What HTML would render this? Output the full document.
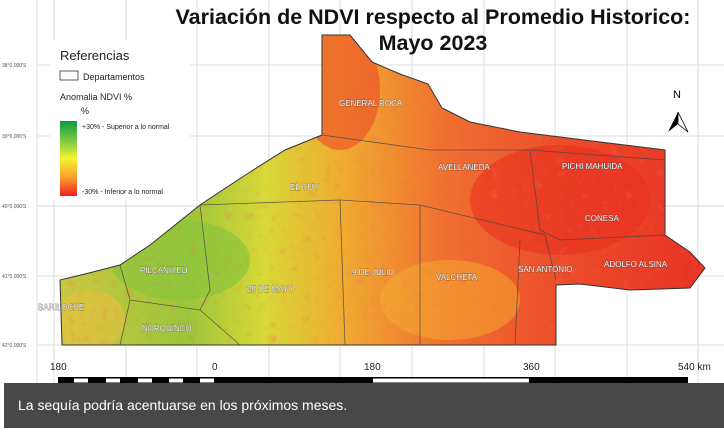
<!DOCTYPE html>
<html><head><meta charset="utf-8"><style>
body{margin:0;width:724px;height:428px;overflow:hidden;background:#fff;font-family:"Liberation Sans",sans-serif}
</style></head><body>
<svg width="724" height="428" viewBox="0 0 724 428" xmlns="http://www.w3.org/2000/svg">
<defs>
<linearGradient id="g" x1="60" y1="0" x2="700" y2="0" gradientUnits="userSpaceOnUse">
<stop offset="0" stop-color="#c8c840"/><stop offset="0.2" stop-color="#9cc63a"/><stop offset="0.32" stop-color="#d8d838"/><stop offset="0.45" stop-color="#f0a830"/><stop offset="0.6" stop-color="#f07030"/><stop offset="0.8" stop-color="#ec4a2a"/><stop offset="1" stop-color="#e83424"/></linearGradient>
<linearGradient id="leg" x1="0" y1="0" x2="0" y2="1"><stop offset="0" stop-color="#0a9a40"/><stop offset="0.3" stop-color="#8ed040"/><stop offset="0.5" stop-color="#f4f430"/><stop offset="0.75" stop-color="#f8a030"/><stop offset="1" stop-color="#ee2020"/></linearGradient>
<filter id="n"><feTurbulence baseFrequency="0.09" numOctaves="2" seed="3"/><feColorMatrix values="0 0 0 0 0.9  0 0 0 0 0.15  0 0 0 0 0.1  0 0 0 1.2 -0.45"/><feComposite in2="SourceGraphic" operator="in"/></filter>
<clipPath id="c"><path id="m" d="M322,35 L350,35 L372,62 L400,74 L428,84 L442,108 L470,122 L520,132 L600,142 L665,150 L665,235 L690,252 L705,268 L690,288 L630,290 L580,284 L556,285 L556,345 L62,345 L60,280 L85,274 L120,265 L150,245 L200,205 L215,195 L250,172 L285,150 L322,135 Z"/></clipPath>
</defs>
<g stroke="#ddd" stroke-width="1">
<line x1="37" y1="0" x2="37" y2="428"/><line x1="54" y1="0" x2="54" y2="428"/><line x1="126" y1="0" x2="126" y2="428"/><line x1="197" y1="0" x2="197" y2="428"/><line x1="269" y1="0" x2="269" y2="428"/><line x1="340" y1="0" x2="340" y2="428"/><line x1="412" y1="0" x2="412" y2="428"/><line x1="484" y1="0" x2="484" y2="428"/><line x1="555" y1="0" x2="555" y2="428"/><line x1="627" y1="0" x2="627" y2="428"/><line x1="698" y1="0" x2="698" y2="428"/>
<line x1="37" y1="65" x2="724" y2="65"/><line x1="37" y1="136" x2="724" y2="136"/><line x1="37" y1="206" x2="724" y2="206"/><line x1="37" y1="276" x2="724" y2="276"/><line x1="37" y1="345" x2="724" y2="345"/>
</g>
<g font-size="5" fill="#555"><text x="2" y="67">38°0,000'S</text><text x="2" y="138">39°0,000'S</text><text x="2" y="208">40°0,000'S</text><text x="2" y="278">41°0,000'S</text><text x="2" y="347">42°0,000'S</text></g>
<g clip-path="url(#c)">
<rect x="0" y="0" width="724" height="428" fill="url(#g)"/>
<ellipse cx="180" cy="260" rx="70" ry="40" fill="#8cc43c" opacity="0.7"/>
<ellipse cx="340" cy="90" rx="40" ry="60" fill="#ee4a28" opacity="0.6"/>
<ellipse cx="560" cy="200" rx="90" ry="55" fill="#e83020" opacity="0.6"/>
<ellipse cx="450" cy="300" rx="70" ry="40" fill="#f4b030" opacity="0.5"/>
<ellipse cx="90" cy="320" rx="35" ry="30" fill="#e8c040" opacity="0.6"/>
<rect x="0" y="0" width="724" height="428" fill="#f05030" filter="url(#n)" opacity="0.6"/>
</g>
<use href="#m" fill="none" stroke="#333" stroke-width="1"/>
<g fill="none" stroke="#444" stroke-width="0.8" opacity="0.8">
<path d="M322,135 L430,150 L530,150 L665,160"/><path d="M530,150 L540,230 L560,240 L665,235"/><path d="M200,205 L340,200 L420,205 L545,235 L556,280"/><path d="M420,205 L420,345"/><path d="M340,200 L345,345"/><path d="M520,240 L515,345"/><path d="M120,265 L130,300 L120,345"/><path d="M130,300 L200,310 L240,345"/><path d="M200,205 L210,290 L200,310"/>
</g>
<g font-size="8" fill="#fff" stroke="#333" stroke-width="0.5" paint-order="stroke">
<text x="339" y="106">GENERAL ROCA</text><text x="290" y="190">EL CUY</text><text x="438" y="170">AVELLANEDA</text><text x="562" y="169">PICHI MAHUIDA</text><text x="585" y="221">CONESA</text><text x="604" y="267">ADOLFO ALSINA</text><text x="518" y="272">SAN ANTONIO</text><text x="436" y="280">VALCHETA</text><text x="352" y="275">9 DE JULIO</text><text x="247" y="292">25 DE MAYO</text><text x="140" y="273">PILCANIYEU</text><text x="142" y="331">ÑORQUINCO</text><text x="38" y="310">BARILOCHE</text>
</g>
<text x="433" y="24" font-size="21.5" font-weight="bold" text-anchor="middle" fill="#111">Variación de NDVI respecto al Promedio Historico:</text>
<text x="433" y="50" font-size="21.5" font-weight="bold" text-anchor="middle" fill="#111">Mayo 2023</text>
<rect x="50" y="40" width="140" height="160" fill="#fff"/>
<text x="60" y="60" font-size="13" fill="#222">Referencias</text>
<rect x="60" y="71" width="18" height="9" fill="none" stroke="#333" stroke-width="0.8"/>
<text x="83" y="80" font-size="9" fill="#222">Departamentos</text>
<text x="60" y="100" font-size="9" fill="#222">Anomalia NDVI %</text>
<text x="81" y="114" font-size="9" fill="#222">%</text>
<rect x="60" y="121" width="17" height="75" fill="url(#leg)"/>
<text x="82" y="129" font-size="7" fill="#222">+30% - Superior a lo normal</text>
<text x="82" y="194" font-size="7" fill="#222">-30% - Inferior a lo normal</text>
<path d="M678,112 L668,132 L678,124 Z" fill="#000"/><path d="M678,112 L688,132 L678,124 Z" fill="#fff" stroke="#000" stroke-width="0.8"/>
<text x="673" y="98" font-size="11" fill="#000">N</text>
<g font-size="10" fill="#222"><text x="50" y="370">180</text><text x="212" y="370">0</text><text x="364" y="370">180</text><text x="523" y="370">360</text><text x="678" y="370">540 km</text></g>
<rect x="58" y="377" width="630" height="7" fill="#000"/>
<g fill="#fff"><rect x="74" y="378.5" width="14" height="4"/><rect x="106" y="378.5" width="14" height="4"/><rect x="138" y="378.5" width="14" height="4"/><rect x="169" y="378.5" width="14" height="4"/><rect x="200" y="378.5" width="14" height="4"/><rect x="373" y="378.5" width="156" height="4"/></g>
<rect x="4" y="383" width="720" height="45" fill="#484848"/>
<text x="18" y="410" font-size="14" fill="#fff">La sequía podría acentuarse en los próximos meses.</text>
</svg>
</body></html>
